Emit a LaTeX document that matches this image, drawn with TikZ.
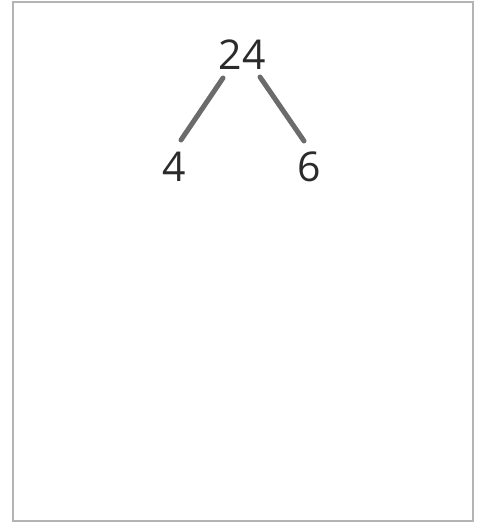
\documentclass[tikz,border=0pt]{standalone}
\usepackage{fontspec}
\setmainfont{Open Sans}
\usetikzlibrary{calc}
\definecolor{framegrey}{HTML}{B4B4B8}
\definecolor{branchgrey}{HTML}{6B6B6B}
\definecolor{numtext}{HTML}{2B2B2B}
\tikzset{
  x=1pt, y=-1pt,
  num/.style    = {inner sep=0pt, text=numtext, font=\fontsize{41}{41}\selectfont},
  branch/.style = {draw=branchgrey, line width=5pt, line cap=round},
  frame/.style  = {draw=framegrey, line width=2pt},
}
\begin{document}
\begin{tikzpicture}
  \useasboundingbox (0,0) rectangle (484,522);
  \draw[frame] (13,1.5) rectangle (473,520.5);
  % factor tree
  \node[num] (root) at (242,55) {24};
  \node[num] (left) at (174,167) {4};
  \node[num] (right) at (309,167) {6};
  \draw[branch] ($(root)+(-19,23)$) -- ($(left)+(7,-27)$);
  \draw[branch] ($(root)+(18,22)$) -- ($(right)+(-5,-26)$);
\end{tikzpicture}
\end{document}
